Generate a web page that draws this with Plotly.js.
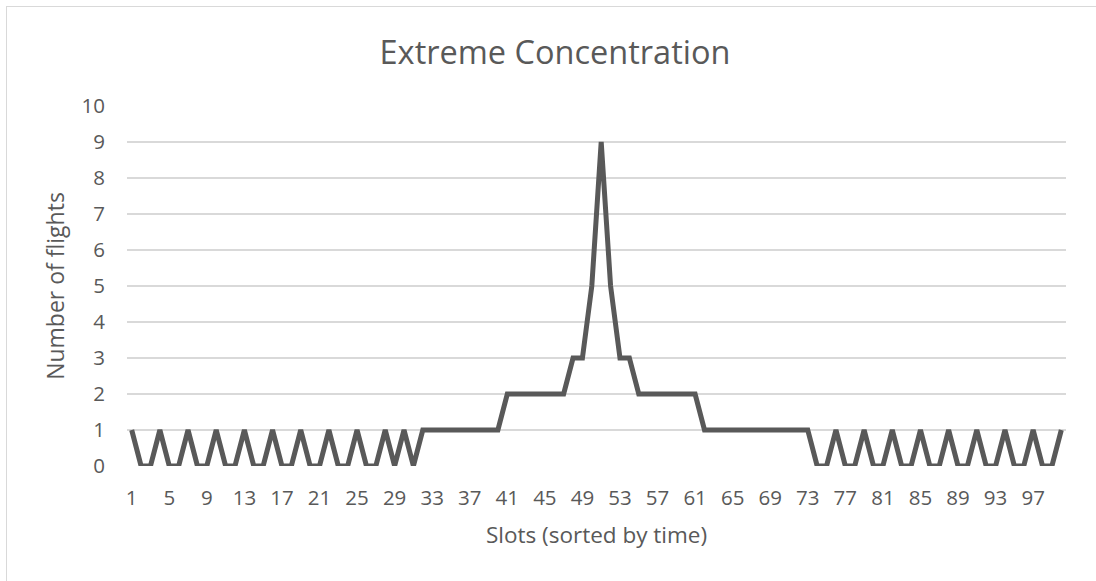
<!DOCTYPE html>
<html>
<head>
<meta charset="utf-8">
<script src="https://cdn.plot.ly/plotly-3.0.1.min.js"></script>
<style>
  html, body { margin: 0; padding: 0; background: #ffffff; }
  #wrap { position: relative; width: 1096px; height: 581px; overflow: hidden; }
  #chart { position: absolute; left: 0; top: 0; width: 1096px; height: 581px; }
  #frame { position: absolute; left: 6px; top: 6px; width: 1200px; height: 700px;
           border: 1.5px solid #d9d9d9; pointer-events: none; box-sizing: border-box; }
</style>
</head>
<body>
<div id="wrap">
  <div id="chart"></div>
  <div id="frame"></div>
</div>
<script>
// Slots 1..100
const slots = [];
for (let i = 1; i <= 100; i++) slots.push(i);

// Number of flights per slot
const flights = [
  1,0,0,1,0,0,1,0,0,1,   // 1-10
  0,0,1,0,0,1,0,0,1,0,   // 11-20
  0,1,0,0,1,0,0,1,0,1,   // 21-30
  0,1,1,1,1,1,1,1,1,1,   // 31-40
  2,2,2,2,2,2,2,3,3,5,   // 41-50
  9,5,3,3,2,2,2,2,2,2,   // 51-60
  2,1,1,1,1,1,1,1,1,1,   // 61-70
  1,1,1,0,0,1,0,0,1,0,   // 71-80
  0,1,0,0,1,0,0,1,0,0,   // 81-90
  1,0,0,1,0,0,1,0,0,1    // 91-100
];

const xTickVals = [1,5,9,13,17,21,25,29,33,37,41,45,49,53,57,61,65,69,73,77,81,85,89,93,97];
const xTickText = ['1','5','9','13','17','21','25','29','33','37','41','45','49','53','57','61','65','69','73','77','81','85','89','93','97'];
const yTickVals = [0,1,2,3,4,5,6,7,8,9,10];

const chartTitle = 'Extreme Concentration';
const xTitle = 'Slots (sorted by time)';
const yTitle = 'Number of flights';

const FONT = '"Open Sans", "Noto Sans", sans-serif';
const TXT = '#595959';

const trace = {
  x: slots,
  y: flights,
  type: 'scatter',
  mode: 'lines',
  line: { color: '#595959', width: 5, shape: 'linear' },
  hoverinfo: 'x+y'
};

const layout = {
  width: 1096,
  height: 581,
  margin: { l: 127, r: 30, t: 106, b: 115, pad: 0 },
  paper_bgcolor: 'rgba(0,0,0,0)',
  plot_bgcolor: 'rgba(0,0,0,0)',
  showlegend: false,
  font: { family: FONT, color: TXT, size: 21 },
  title: {
    text: chartTitle,
    font: { family: FONT, size: 32.5, color: TXT },
    x: 0.5 + (555 - 548) / 1096, xanchor: 'center',
    y: 1 - 53/581, yref: 'container', yanchor: 'middle'
  },
  xaxis: {
    range: [0.5, 100.5],
    tickmode: 'array',
    tickvals: xTickVals,
    ticktext: xTickText,
    showgrid: false,
    zeroline: false,
    showline: false,
    ticks: '',
    ticklabelstandoff: 17,
    tickfont: { family: FONT, size: 20.5, color: TXT },
    title: { text: xTitle, font: { family: FONT, size: 22.5, color: TXT }, standoff: 17 },
    fixedrange: true
  },
  yaxis: {
    range: [0, 10],
    tickmode: 'array',
    tickvals: yTickVals,
    showgrid: true,
    gridcolor: '#d9d9d9',
    gridwidth: 1.3,
    zeroline: false,
    showline: false,
    ticks: '',
    ticklabelstandoff: 21,
    tickfont: { family: FONT, size: 20.5, color: TXT },
    title: { text: yTitle, font: { family: FONT, size: 23, color: TXT }, standoff: 10 },
    fixedrange: true
  }
};

Plotly.newPlot('chart', [trace], layout, { displayModeBar: false, staticPlot: true });
</script>
</body>
</html>
